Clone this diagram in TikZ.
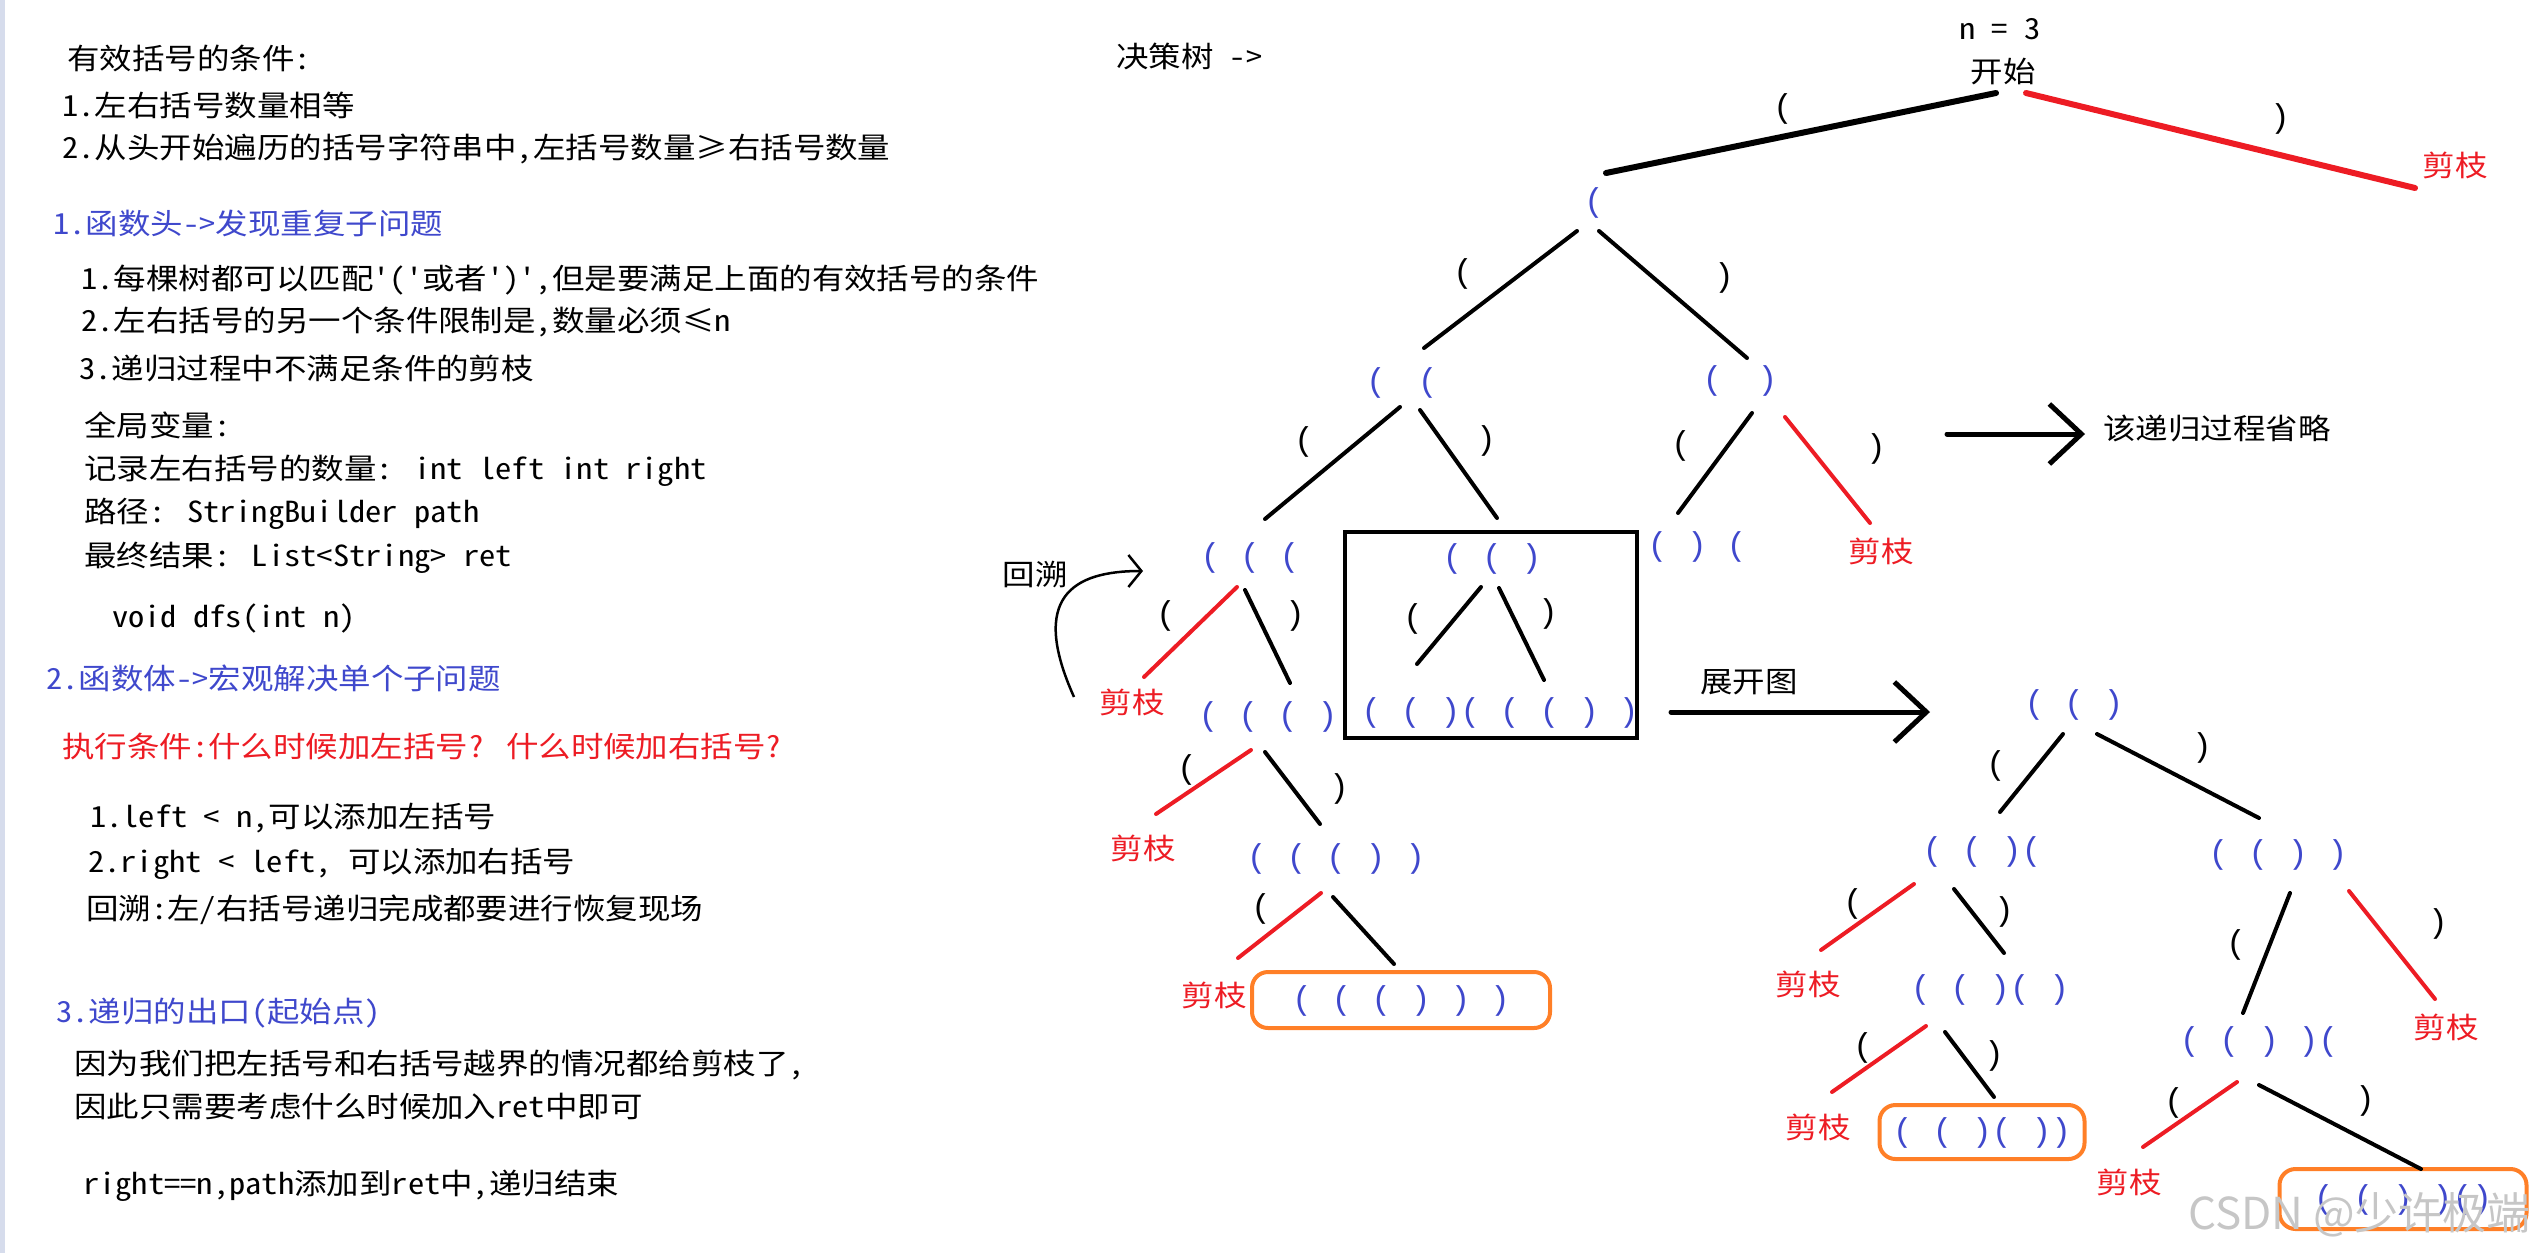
\documentclass[tikz,border=0pt]{standalone}
\usepackage{fontspec}
\setmainfont{Noto Sans CJK SC}
\newfontfamily\cjk{Noto Sans CJK SC}[FakeStretch=1.12,CharacterWidth=Half,Ligatures=TeXOff]
\newfontfamily\pfont{Liberation Mono}
\newfontfamily\wmfont{Noto Sans CJK SC}
\usetikzlibrary{arrows.meta,positioning}
\definecolor{pblue}{RGB}{63,72,204}
\definecolor{pred}{RGB}{237,28,36}
\definecolor{porange}{RGB}{255,127,39}
\definecolor{pside}{RGB}{214,220,236}
\tikzset{
  note/.style={
    anchor=west, inner sep=0pt, font=\cjk\fontsize{29}{34}\selectfont,
    text height=24pt, text depth=5pt
  },
  noteB/.style={note, text=pblue},
  noteR/.style={note, text=pred},
  lbl/.style={
    inner sep=0pt, font=\cjk\fontsize{29}{34}\selectfont,
    text height=24pt, text depth=5pt
  },
  cut/.style={lbl, text=pred},
  prn/.style={
    inner sep=0pt, font=\pfont\fontsize{33}{36}\selectfont, text=pblue,
    text height=25pt, text depth=7pt
  },
  elbl/.style={prn, text=black},
  edge/.style={line width=4pt, line cap=round},
  edgeR/.style={edge, draw=pred},
  topedge/.style={edge, line width=6pt},
  frame/.style={draw, line width=4.5pt, rectangle, inner sep=0pt},
  ansbox/.style={
    prn, draw=porange, line width=4pt, rounded corners=16pt
  },
  bigarrow/.style={line width=5pt, line cap=round,
    -{Straight Barb[length=32pt,width=60pt]}},
  backarrow/.style={line width=2.5pt,
    -{Straight Barb[length=13pt,width=32pt]}}
}

\begin{document}
\begin{tikzpicture}[x=1pt, y=-1pt]
\useasboundingbox (0,0) rectangle (2534,1253);
\fill[pside] (0,0) rectangle (5,1253);

% notes on the left
\node[note]  (t1)  at (67,60)   {有效括号的条件:};
\node[note]  (t2)  at (62,107)  {1.左右括号数量相等};
\node[note]  (t3)  at (62,149)  {2.从头开始遍历的括号字符串中,左括号数量≥右括号数量};
\node[noteB] (h1)  at (53,225)  {1.函数头->发现重复子问题};
\node[note]  (t4)  at (81,280)  {1.每棵树都可以匹配'('或者')',但是要满足上面的有效括号的条件};
\node[note]  (t5)  at (81,322)  {2.左右括号的另一个条件限制是,数量必须≤n};
\node[note]  (t6)  at (79,370)  {3.递归过程中不满足条件的剪枝};
\node[note]  (g1)  at (84,427)  {全局变量:};
\node[note]  (g2)  at (84,470)  {记录左右括号的数量: int left int right};
\node[note]  (g3)  at (84,513)  {路径: StringBuilder path};
\node[note]  (g4)  at (84,557)  {最终结果: List<String> ret};
\node[note]  (fn)  at (112,618) {void dfs(int n)};
\node[noteB] (h2)  at (46,680)  {2.函数体->宏观解决单个子问题};
\node[noteR] (q1)  at (62,748)  {执行条件:什么时候加左括号? 什么时候加右括号?};
\node[note]  (r1)  at (90,818)  {1.left < n,可以添加左括号};
\node[note]  (r2)  at (88,863)  {2.right < left, 可以添加右括号};
\node[note]  (r3)  at (86,910)  {回溯:左/右括号递归完成都要进行恢复现场};
\node[noteB] (h3)  at (56,1013) {3.递归的出口(起始点)};
\node[note]  (e1)  at (74,1065) {因为我们把左括号和右括号越界的情况都给剪枝了,};
\node[note]  (e2)  at (74,1108) {因此只需要考虑什么时候加入ret中即可};
\node[note]  (e3)  at (83,1185) {right==n,path添加到ret中,递归结束};

% decision tree
\node[note] (tree) at (1116,58) {决策树 ->};
\node[lbl] (n3)    at (2000,30) {n = 3};
\node[lbl] (start) at (2003,73) {开始};

\node[prn] (A)  at (1594,202) {(};
\node[prn] (B)  at (1402,382) {(\hspace{32pt}(};
\node[prn] (C)  at (1740,380) {(\hspace{35pt})};
\node[prn] (C1) at (1697,546) {( ) (};
\node[prn] (D)  at (1250,557) {( ( (};
\node[prn] (bt) at (1492,558) {( ( )};
\node[prn] (bb) at (1500,712) {( ( )( ( ( ) )};
\node[prn] (D1) at (1268,716) {( ( ( )};
\node[prn] (D2) at (1336,858) {( ( ( ) )};
\node[ansbox, minimum width=298pt, minimum height=56pt] (ans1) at (1401,1000) {( ( ( ) ) )};

\node[frame, minimum width=292pt, minimum height=206pt] (unfold) at (1491,635) {};

\node[cut] (jz0)  at (2455,167)  {剪枝};
\node[cut] (jzC)  at (1881,553)  {剪枝};
\node[cut] (jzD)  at (1132,704)  {剪枝};
\node[cut] (jzD1) at (1143,850)  {剪枝};
\node[cut] (jzD2) at (1214,997)  {剪枝};

\node[elbl] (l0a) at (1783,108) {(};
\node[elbl] (l0b) at (2280,118) {)};
\node[elbl] (lAa) at (1463,273) {(};
\node[elbl] (lAb) at (1724,277) {)};
\node[elbl] (lBa) at (1304,441) {(};
\node[elbl] (lBb) at (1486,440) {)};
\node[elbl] (lCa) at (1681,445) {(};
\node[elbl] (lCb) at (1876,448) {)};
\node[elbl] (lDa) at (1166,615) {(};
\node[elbl] (lDb) at (1295,615) {)};
\node[elbl] (lta) at (1413,618) {(};
\node[elbl] (ltb) at (1548,613) {)};
\node[elbl] (lEa) at (1187,769) {(};
\node[elbl] (lEb) at (1339,788) {)};
\node[elbl] (lFa) at (1261,908) {(};

\draw[topedge] ([shift={(-7,20)}]start.center) -- ([shift={(12,-29)}]A.center);
\draw[topedge, draw=pred] ([shift={(23,20)}]start.center) -- ([shift={(-40,21)}]jz0.center);
\draw[edge]  ([shift={(-17,29)}]A.center) -- ([shift={(22,-34)}]B.center);
\draw[edge]  ([shift={(5,29)}]A.center)   -- ([shift={(7,-22)}]C.center);
\draw[edge]  ([shift={(-2,25)}]B.center)  -- ([shift={(15,-38)}]D.center);
\draw[edge]  ([shift={(18,28)}]B.center)  -- ([shift={(5,-40)}]bt.center);
\draw[edge]  ([shift={(12,33)}]C.center)  -- ([shift={(-19,-33)}]C1.center);
\draw[edgeR] ([shift={(45,37)}]C.center)  -- ([shift={(-11,-30)}]jzC.center);
\draw[edgeR] ([shift={(-13,30)}]D.center) -- ([shift={(12,-27)}]jzD.center);
\draw[edge]  ([shift={(-5,33)}]D.center)  -- ([shift={(22,-33)}]D1.center);
\draw[edge]  ([shift={(-11,29)}]bt.center) -- ([shift={(-83,-48)}]bb.center);
\draw[edge]  ([shift={(7,30)}]bt.center)  -- ([shift={(44,-32)}]bb.center);
\draw[edgeR] ([shift={(-17,34)}]D1.center) -- ([shift={(13,-36)}]jzD1.center);
\draw[edge]  ([shift={(-3,36)}]D1.center) -- ([shift={(-16,-34)}]D2.center);
\draw[edgeR] ([shift={(-15,35)}]D2.center) -- ([shift={(24,-39)}]jzD2.center);
\draw[edge]  ([shift={(-3,39)}]D2.center) -- ([shift={(-7,-36)}]ans1.center);

% backtracking
\node[lbl] (back) at (1035,576) {回溯};
\draw[backarrow] ([shift={(-58,-7)}]jzD.center)
  .. controls +(-45,-100) and +(-70,0) .. ([shift={(-107,14)}]D.center);

% omitted branch
\coordinate (omitfrom) at (1947,434);
\node[note] (omit) at (2103,430) {该递归过程省略};
\draw[bigarrow] (omitfrom) -- ([shift={(-18,4)}]omit.west);

% expanded view
\coordinate (expfrom) at (1671,712);
\node[lbl] (explbl) at (1749,683) {展开图};

\node[prn] (E)  at (2074,704)  {( ( )};
\node[prn] (F)  at (1982,851)  {( ( )(};
\node[prn] (G)  at (2278,854)  {( ( ) )};
\node[prn] (F1) at (1990,989)  {( ( )( )};
\node[prn] (G1) at (2259,1041) {( ( ) )(};
\node[ansbox, minimum width=205pt, minimum height=54pt] (ans2) at (1982,1132) {( ( )( ))};
\node[ansbox, minimum width=247pt, minimum height=60pt] (ans3) at (2403,1199) {( ( ) )()};

\draw[bigarrow] (expfrom) -- ([shift={(-144,8)}]E.center);

\node[cut] (jzF)  at (1808,986)  {剪枝};
\node[cut] (jzF1) at (1818,1129) {剪枝};
\node[cut] (jzG)  at (2446,1029) {剪枝};
\node[cut] (jzG1) at (2129,1184) {剪枝};

\node[elbl] (lGa) at (1996,765)  {(};
\node[elbl] (lGb) at (2202,747)  {)};
\node[elbl] (lHa) at (1853,903)  {(};
\node[elbl] (lHb) at (2004,911)  {)};
\node[elbl] (lIa) at (1863,1047) {(};
\node[elbl] (lIb) at (1994,1055) {)};
\node[elbl] (lJa) at (2236,944)  {(};
\node[elbl] (lJb) at (2438,923)  {)};
\node[elbl] (lKa) at (2174,1102) {(};
\node[elbl] (lKb) at (2365,1100) {)};

\draw[edge]  ([shift={(-11,30)}]E.center)  -- ([shift={(18,-39)}]F.center);
\draw[edge]  ([shift={(23,30)}]E.center)   -- ([shift={(-19,-36)}]G.center);
\draw[edgeR] ([shift={(-68,33)}]F.center)  -- ([shift={(13,-36)}]jzF.center);
\draw[edge]  ([shift={(-28,38)}]F.center)  -- ([shift={(14,-36)}]F1.center);
\draw[edgeR] ([shift={(-64,37)}]F1.center) -- ([shift={(14,-37)}]jzF1.center);
\draw[edge]  ([shift={(-45,43)}]F1.center) -- ([shift={(12,-35)}]ans2.center);
\draw[edge]  ([shift={(12,39)}]G.center)   -- ([shift={(-16,-28)}]G1.center);
\draw[edgeR] ([shift={(71,37)}]G.center)   -- ([shift={(-11,-30)}]jzG.center);
\draw[edgeR] ([shift={(-22,41)}]G1.center) -- ([shift={(14,-37)}]jzG1.center);
\draw[edge]  ([shift={(0,44)}]G1.center)   -- ([shift={(18,-30)}]ans3.center);

\node[anchor=east, inner sep=0pt, font=\wmfont\fontsize{44}{48}\selectfont,
      text=gray!45] (wm) at (2531,1215) {CSDN @少许极端};
\end{tikzpicture}
\end{document}
